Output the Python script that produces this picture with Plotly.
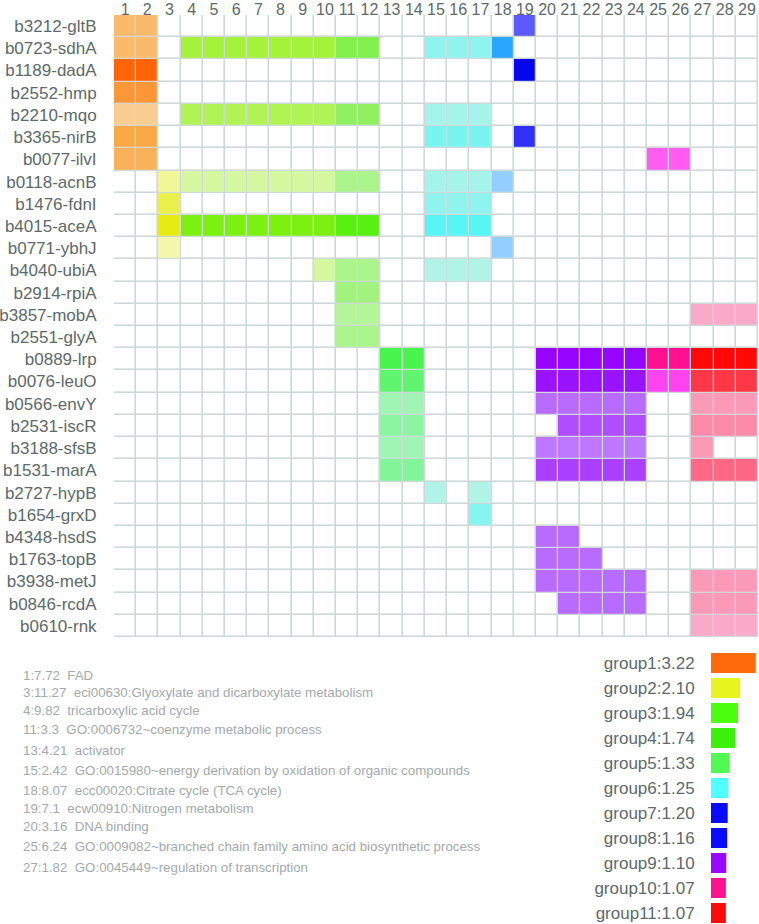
import plotly.graph_objects as go

# genes (rows) of the clustering matrix
genes = [
    "b3212-gltB", "b0723-sdhA", "b1189-dadA", "b2552-hmp", "b2210-mqo",
    "b3365-nirB", "b0077-ilvI", "b0118-acnB", "b1476-fdnI", "b4015-aceA",
    "b0771-ybhJ", "b4040-ubiA", "b2914-rpiA", "b3857-mobA", "b2551-glyA",
    "b0889-lrp", "b0076-leuO", "b0566-envY", "b2531-iscR", "b3188-sfsB",
    "b1531-marA", "b2727-hypB", "b1654-grxD", "b4348-hsdS", "b1763-topB",
    "b3938-metJ", "b0846-rcdA", "b0610-rnk",
]

# strength level per cell (0 = not a member), columns 1..29, "|" splits term clusters
levels = [
    "33|0|0000000|00|00|000|0|1|00000|00|000",
    "33|0|5555555|66|00|444|9|0|00000|00|000",
    "99|0|0000000|00|00|000|0|9|00000|00|000",
    "66|0|0000000|00|00|000|0|0|00000|00|000",
    "11|0|4444444|55|00|222|0|0|00000|00|000",
    "55|0|0000000|00|00|666|0|5|00000|00|000",
    "44|0|0000000|00|00|000|0|0|00000|11|000",
    "00|2|1111111|22|00|222|1|0|00000|00|000",
    "00|6|0000000|00|00|444|0|0|00000|00|000",
    "00|9|9999999|99|00|999|0|0|00000|00|000",
    "00|1|0000000|00|00|000|1|0|00000|00|000",
    "00|0|0000001|22|00|111|0|0|00000|00|000",
    "00|0|0000000|33|00|000|0|0|00000|00|000",
    "00|0|0000000|11|00|000|0|0|00000|00|111",
    "00|0|0000000|22|00|000|0|0|00000|00|000",
    "00|0|0000000|00|99|000|0|0|99999|99|999",
    "00|0|0000000|00|77|000|0|0|88888|44|777",
    "00|0|0000000|00|11|000|0|0|22222|00|222",
    "00|0|0000000|00|33|000|0|0|04444|00|333",
    "00|0|0000000|00|11|000|0|0|11111|00|200",
    "00|0|0000000|00|44|000|0|0|55555|00|555",
    "00|0|0000000|00|00|101|0|0|00000|00|000",
    "00|0|0000000|00|00|005|0|0|00000|00|000",
    "00|0|0000000|00|00|000|0|0|22000|00|000",
    "00|0|0000000|00|00|000|0|0|22200|00|000",
    "00|0|0000000|00|00|000|0|0|22222|00|222",
    "00|0|0000000|00|00|000|0|0|02222|00|222",
    "00|0|0000000|00|00|000|0|0|00000|00|111",
]

# term clusters: first column, enrichment score, term
cluster_start = [1, 3, 4, 11, 13, 15, 18, 19, 20, 25, 27]
cluster_score = [7.72, 11.27, 9.82, 3.3, 4.21, 2.42, 8.07, 7.1, 3.16, 6.24, 1.82]
cluster_term = [
    "FAD",
    "eci00630:Glyoxylate and dicarboxylate metabolism",
    "tricarboxylic acid cycle",
    "GO:0006732~coenzyme metabolic process",
    "activator",
    "GO:0015980~energy derivation by oxidation of organic compounds",
    "ecc00020:Citrate cycle (TCA cycle)",
    "ecw00910:Nitrogen metabolism",
    "DNA binding",
    "GO:0009082~branched chain family amino acid biosynthetic process",
    "GO:0045449~regulation of transcription",
]

# gene groups (legend bars)
group_names = [f"group{i}" for i in range(1, 12)]
group_values = [3.22, 2.10, 1.94, 1.74, 1.33, 1.25, 1.20, 1.16, 1.10, 1.07, 1.07]

n_cols = 29
n_rows = len(genes)

cluster_scales = [
    [[0, "#f9cc90"], [0.5, "#f9a846"], [1, "#ff6508"]],
    [[0, "#f2f7ac"], [1, "#e6ec12"]],
    [[0, "#d4f7a0"], [0.5, "#a4f23a"], [1, "#7cf010"]],
    [[0, "#b4f59a"], [0.5, "#90f060"], [1, "#58f010"]],
    [[0, "#a0f5b4"], [0.5, "#78f590"], [1, "#48f54c"]],
    [[0, "#b0f4e8"], [1, "#58f5f5"]],
    [[0, "#94ceff"], [1, "#2aa6ff"]],
    [[0, "#5a5aff"], [1, "#0505ee"]],
    [[0, "#be78ff"], [1, "#9505ff"]],
    [[0, "#ff5cf2"], [0.5, "#ff3af0"], [1, "#ff1090"]],
    [[0, "#f8aac8"], [0.45, "#ff7090"], [1, "#ff0808"]],
]
group_colors = ["#ff6a0c", "#e6f51e", "#4cff0e", "#3cf00c", "#50fa50", "#50ffff",
                "#0a0aff", "#0a0aff", "#9a08ff", "#ff1090", "#ff0a0a"]

W, H = 759, 924
MT, MB, ML, MR = 15, 0, 0, 1
PW, PH = W - ML - MR, H - MT - MB


def px_x(px):
    return (px - ML) / PW


def px_y(py):
    return (H - MB - py) / PH


matrix = [[int(c) for c in s.replace("|", "")] for s in levels]
cols = list(range(1, n_cols + 1))
rows = list(range(1, n_rows + 1))

fig = go.Figure()

# grid: grey bricks under white bricks with gaps
fig.add_trace(go.Heatmap(
    x=cols, y=rows, z=[[0] * n_cols for _ in rows],
    colorscale=[[0, "#cfd8d8"], [1, "#cfd8d8"]], showscale=False, hoverinfo="skip",
))
fig.add_trace(go.Heatmap(
    x=cols, y=rows, z=[[0] * n_cols for _ in rows],
    colorscale=[[0, "#ffffff"], [1, "#ffffff"]], showscale=False, hoverinfo="skip",
    xgap=1.6, ygap=1.6,
))

ends = cluster_start[1:] + [n_cols + 1]
for k, (start, end) in enumerate(zip(cluster_start, ends)):
    z = []
    for r in matrix:
        z.append([r[c - 1] if (start <= c < end and r[c - 1] > 0) else None for c in cols])
    fig.add_trace(go.Heatmap(
        x=cols, y=rows, z=z, zmin=1, zmax=9,
        colorscale=cluster_scales[k], showscale=False, hoverinfo="skip",
        xgap=1.2, ygap=1.2,
    ))

# group bars
fig.add_trace(go.Bar(
    x=group_values, y=list(range(len(group_values))), orientation="h",
    marker=dict(color=group_colors, line=dict(width=0)),
    xaxis="x2", yaxis="y2", hoverinfo="skip",
))

label_font = dict(family="Liberation Sans, Arial, sans-serif", size=17, color="#5c6a6a")

fig.update_layout(
    width=W, height=H,
    margin=dict(l=ML, r=MR, t=MT, b=MB),
    paper_bgcolor="white", plot_bgcolor="white",
    showlegend=False,
    bargap=0.2,
    xaxis=dict(
        domain=[px_x(114), 1], range=[0.5, n_cols + 0.5], automargin=False,
        side="top", tickvals=cols, ticktext=[str(c) for c in cols],
        ticks="outside", ticklen=1, tickcolor="rgba(0,0,0,0)", ticklabelstandoff=-8,
        showgrid=False, zeroline=False, showline=False,
        tickfont=dict(label_font, size=16),
    ),
    yaxis=dict(
        domain=[px_y(637), 1], range=[n_rows + 0.5, 0.5], automargin=False,
        tickvals=rows, ticktext=genes,
        ticks="outside", ticklen=13, tickcolor="rgba(0,0,0,0)",
        showgrid=False, zeroline=False, showline=False, tickfont=label_font,
    ),
    xaxis2=dict(
        domain=[px_x(711), px_x(711 + 3.3 * 13.9)], range=[0, 3.3], anchor="y2",
        visible=False, automargin=False,
    ),
    yaxis2=dict(
        domain=[0, px_y(650.5)], range=[10.44, -0.5], anchor="x2", automargin=False,
        tickvals=list(range(len(group_names))),
        ticktext=[f"{n}:{v:.2f}" for n, v in zip(group_names, group_values)],
        ticks="outside", ticklen=12, tickcolor="rgba(0,0,0,0)",
        showgrid=False, zeroline=False, showline=False, tickfont=label_font,
    ),
)

# cluster annotations
text_y = [675, 692, 710, 730, 750, 770, 790, 808, 826, 846, 867]
for start, score, term, ty in zip(cluster_start, cluster_score, cluster_term, text_y):
    fig.add_annotation(
        x=px_x(21), y=px_y(ty), xref="paper", yref="paper",
        xanchor="left", yanchor="middle", showarrow=False,
        text=f"{start}:{score:g}\u00a0 {term}",
        font=dict(family="Liberation Sans, Arial, sans-serif", size=13.3, color="#a3aaaa"),
    )

fig.write_html(
    "out.html",
    config={"displayModeBar": False},
    post_script="document.body.style.margin='0';",
)
